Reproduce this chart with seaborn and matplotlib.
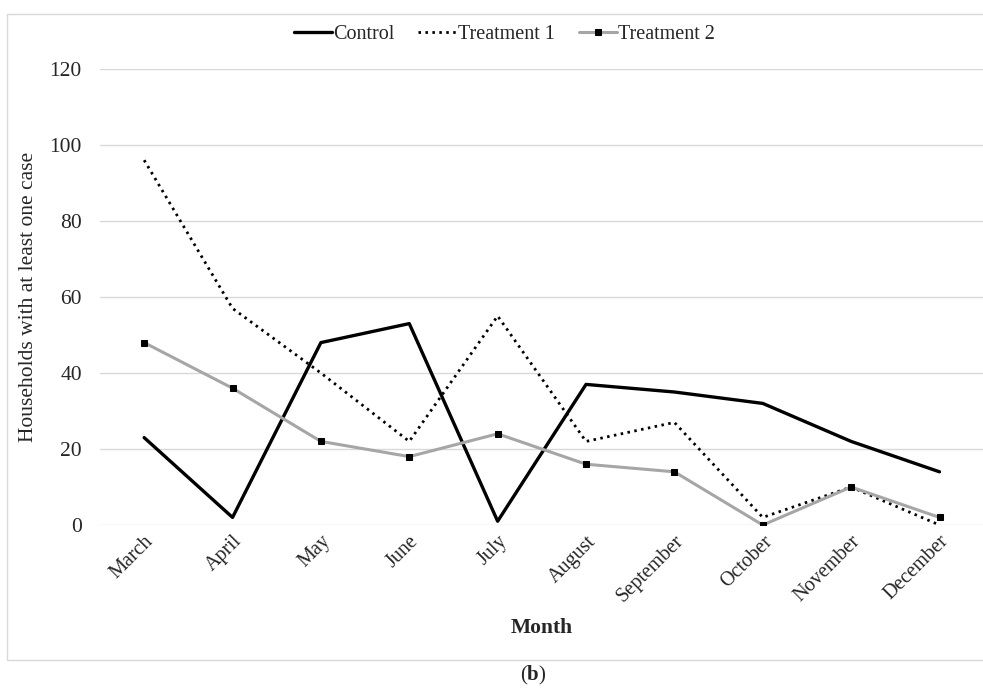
import pandas as pd
import numpy as np
import matplotlib
matplotlib.use("Agg")
import matplotlib.pyplot as plt
import seaborn as sns
from matplotlib.patches import Rectangle

# 資料
months = ["March", "April", "May", "June", "July", "August",
          "September", "October", "November", "December"]
control = [23, 2, 48, 53, 1, 37, 35, 32, 22, 14]
treatment1 = [96, 57, 40, 22, 55, 22, 27, 2, 10, 0]
treatment2 = [48, 36, 22, 18, 24, 16, 14, 0, 10, 2]
y_ticks = [0, 20, 40, 60, 80, 100, 120]

df = pd.DataFrame({"Month": months, "Control": control,
                   "Treatment 1": treatment1, "Treatment 2": treatment2})

sns.set_theme(style="white")
plt.rcParams['font.family'] = ['Liberation Serif', 'DejaVu Serif']
plt.rcParams['mathtext.fontset'] = 'custom'
plt.rcParams['mathtext.rm'] = 'Liberation Serif'
plt.rcParams['mathtext.bf'] = 'Liberation Serif:bold'

fig = plt.figure(figsize=(9.83, 6.91), dpi=100)
ax = fig.add_axes([0.1017, 0.2402, 0.899, 0.66])

# 外框
fig.patches.append(Rectangle((0.007, 0.045), 1.2, 0.935, transform=fig.transFigure,
                             fill=False, edgecolor="#d9d9d9", linewidth=1.0))

sns.lineplot(data=df, x="Month", y="Control", ax=ax, color="black",
             linewidth=2.4, label="Control", sort=False)
sns.lineplot(data=df, x="Month", y="Treatment 1", ax=ax, color="black",
             linewidth=2.0, linestyle=(0, (0.9, 1.6)), label="Treatment 1", sort=False)
sns.lineplot(data=df, x="Month", y="Treatment 2", ax=ax, color="#a6a6a6",
             linewidth=2.2, marker="s", markersize=5, markerfacecolor="black",
             markeredgecolor="black", label="Treatment 2", sort=False)

ax.set_xlim(-0.5, len(months) - 0.5)
ax.set_ylim(0, 120)
ax.set_yticks(y_ticks)
ax.yaxis.grid(True, color="#d9d9d9", linewidth=1.0)
ax.set_axisbelow(True)
for s in ax.spines.values():
    s.set_visible(False)

ax.tick_params(axis="y", labelsize=15.5, pad=13, length=0)
ax.tick_params(axis="x", labelsize=14.5, pad=5, length=0)
ax.set_xticks(range(len(months)))
ax.set_xticklabels(months, rotation=45, ha="right", rotation_mode="anchor")

ax.set_ylabel("Households with at least one case", fontsize=15.5, labelpad=8)
ax.set_xlabel("Month", fontsize=15.5, fontweight="bold", labelpad=8)

ax.legend(loc="center", bbox_to_anchor=(0.513, 0.95), bbox_transform=fig.transFigure,
          ncol=3, frameon=False, fontsize=14.5, handlelength=1.9, handletextpad=0.05,
          columnspacing=1.2)

fig.text(0.542, 0.022, r"($\mathbf{b}$)", ha="center", va="center", fontsize=15)

plt.savefig("out.png", dpi=100)
